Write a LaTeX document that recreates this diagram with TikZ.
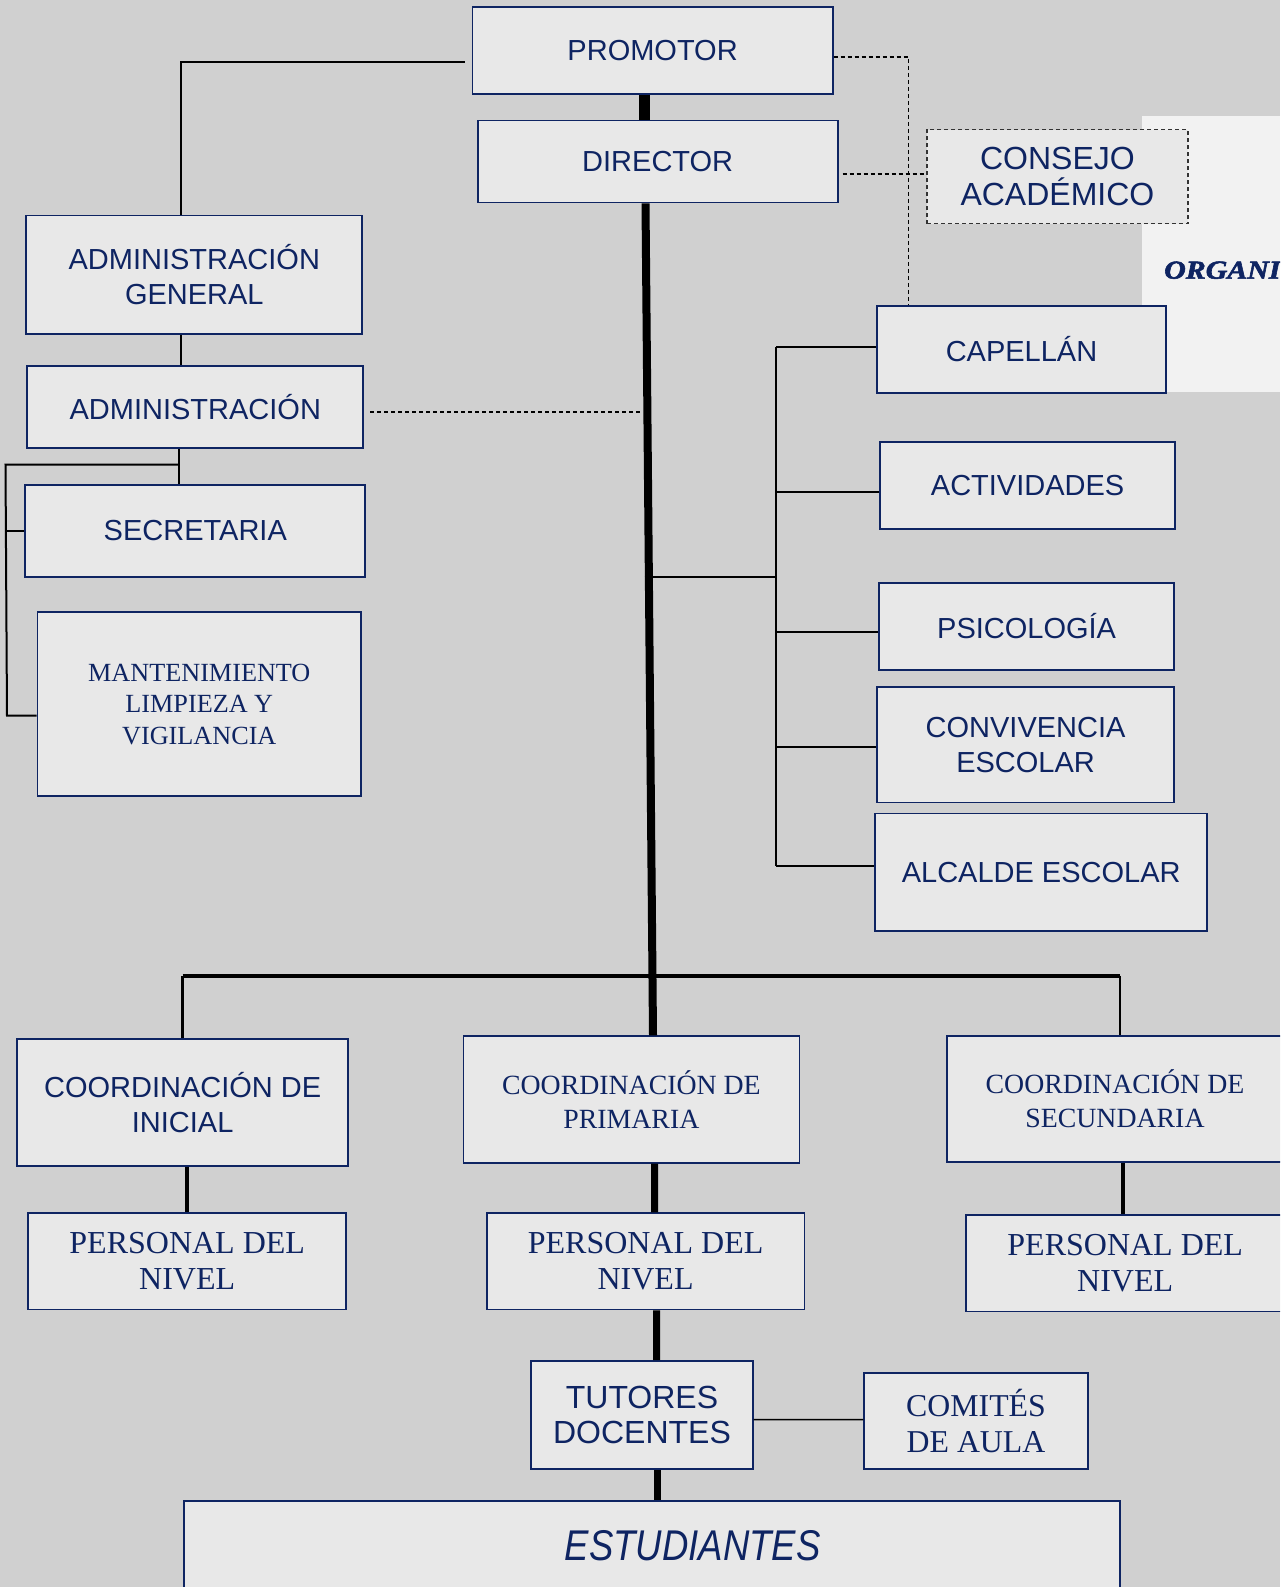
\documentclass[tikz,border=0pt]{standalone}
\usepackage{fontspec}
\setmainfont{Liberation Serif}
\setsansfont{Liberation Sans}
\newfontfamily\heavyfont[FakeBold=2]{Liberation Serif}
\definecolor{navy}{RGB}{14,36,98}
\definecolor{bg}{RGB}{208,208,208}
\definecolor{boxfill}{RGB}{232,232,232}
\definecolor{panel}{RGB}{242,242,242}

\begin{document}
\begin{tikzpicture}[x=1pt,y=-1pt,
	box/.style={draw=navy,fill=boxfill,line width=1.8pt,text=navy,inner sep=0pt,align=center},
	sf/.style={font=\sffamily\fontsize{29}{35.4}\selectfont},
	sfbig/.style={font=\sffamily\fontsize{32}{35.4}\selectfont},
	rm/.style 2 args={font=\rmfamily\fontsize{#1}{#2}\selectfont},
	link/.style={line width=2pt},
	dashlink/.style={line width=1.4pt,dash pattern=on 4pt off 3pt}]
	\useasboundingbox (0,0) rectangle (1280,1587);
	\clip (0,0) rectangle (1280,1587);
	\fill[bg] (0,0) rectangle (1280,1587);
	\fill[panel] (1142.4,116.4) rectangle (1280,391.6);
	\node[anchor=west,inner sep=0pt,text=navy,font=\heavyfont\bfseries\itshape\fontsize{26}{30}\selectfont] (0) at (1164,270.2) {\scalebox{1.15}[1]{ORGANIGRAMA}};
	% top of the chart
	\node[box,sf,minimum width=360.3,minimum height=87] (1) at (652.6,50.6) {PROMOTOR};
	\node[box,sf,minimum width=360.2,minimum height=82] (2) at (657.7,161.4) {DIRECTOR};
	\node[box,sfbig,draw=black!80,line width=1.4pt,dash pattern=on 4pt off 3pt,minimum width=261,minimum height=94.1] (3) at (1057.4,176.6) {CONSEJO\\ACADÉMICO};
	% left column
	\node[box,sf,minimum width=335.9,minimum height=118.4] (4) at (194.3,274.7) {ADMINISTRACIÓN\\GENERAL};
	\node[box,sf,minimum width=336,minimum height=82] (5) at (195.3,407.3) {ADMINISTRACIÓN};
	\node[box,sf,minimum width=340,minimum height=92.1] (6) at (195.3,530.8) {SECRETARIA};
	\node[box,rm={26.2}{31.4},minimum width=323.8,minimum height=184.1] (7) at (199.3,704.3) {MANTENIMIENTO\\LIMPIEZA Y\\VIGILANCIA};
	% right column
	\node[box,sf,minimum width=288.4,minimum height=87] (8) at (1021.5,349.1) {CAPELLÁN};
	\node[box,sf,minimum width=294.5,minimum height=87] (9) at (1027.6,485.7) {ACTIVIDADES};
	\node[box,sf,minimum width=294.5,minimum height=87.1] (10) at (1026.6,626.4) {PSICOLOGÍA};
	\node[box,sf,minimum width=296.5,minimum height=115.3] (11) at (1025.6,744.8) {CONVIVENCIA\\ESCOLAR};
	\node[box,sf,minimum width=331.8,minimum height=117.4] (12) at (1041.2,872.2) {ALCALDE ESCOLAR};
	% levels
	\node[box,sf,minimum width=330.9,minimum height=126.5] (13) at (182.7,1102.5) {COORDINACIÓN DE\\INICIAL};
	\node[box,rm={27.8}{34.4},minimum width=336,minimum height=126.4] (14) at (631.4,1099.4) {COORDINACIÓN DE\\PRIMARIA};
	\node[box,rm={27.8}{34.4},minimum width=336,minimum height=125.4] (15) at (1115,1098.9) {COORDINACIÓN DE\\SECUNDARIA};
	\node[box,rm={32}{36.4},minimum width=317.8,minimum height=96.2] (16) at (187.2,1261.3) {PERSONAL DEL\\NIVEL};
	\node[box,rm={32}{36.4},minimum width=317.7,minimum height=96.2] (17) at (645.6,1261.3) {PERSONAL DEL\\NIVEL};
	\node[box,rm={32}{36.4},minimum width=318,minimum height=96.1] (18) at (1125.2,1263.4) {PERSONAL DEL\\NIVEL};
	\node[box,sfbig,minimum width=221.6,minimum height=108.2] (19) at (642,1415.1) {TUTORES\\DOCENTES};
	\node[box,rm={31.8}{36.4},minimum width=223.7,minimum height=96.1] (20) at (976,1421.2) {COMITÉS\\DE AULA};
	\node[box,font=\sffamily\itshape\fontsize{43}{50}\selectfont,minimum width=936,minimum height=91] (21) at (652.2,1546.1) {\hspace*{81pt}\scalebox{0.85}[1]{ESTUDIANTES}};
	% free ends
	\coordinate (k1) at (5.5,464.5);
	\coordinate (k2) at (7,715.7);
	\coordinate (d1) at (643,411.8);
	\coordinate (r0) at (644.6,576.8);
	\coordinate (r1) at (776.1,347.1);
	\coordinate (r2) at (776.1,866.2);
	\coordinate (bL) at (182.7,975.5);
	\coordinate (bR) at (1120.2,975.5);
	% main line
	\draw[line width=11pt] ([xshift=-8.6pt]1.south) -- ([xshift=-13.7pt]2.north);
	\draw[line width=8pt] ([xshift=-12.2pt]2.south) -- ([xshift=21.6pt]14.north);
	\draw[line width=7pt] ([xshift=23.3pt]14.south) -- ([xshift=9.1pt]17.north);
	\draw[line width=7pt] ([xshift=11.1pt]17.south) -- ([xshift=14.7pt]19.north);
	\draw[line width=7pt] ([xshift=15.7pt]19.south) -- ([xshift=5.5pt]21.north);
	\draw[line width=4pt] (bL) -- (bR);
	\draw[line width=3pt] (bL) -- (13.north);
	\draw[line width=2.5pt] (bR) -- (bR |- 15.north);
	\draw[line width=3.5pt] ([xshift=4.5pt]13.south) -- (16.north);
	\draw[line width=3.5pt] ([xshift=8.2pt]15.south) -- ([xshift=-2pt]18.north);
	\draw[line width=1.5pt] ([yshift=-4.6pt]19.east) -- ([yshift=1.5pt]20.west);
	% left side
	\draw[link] ([xshift=-7pt,yshift=-11.1pt]1.west) -| ([xshift=-13.2pt]4.north);
	\draw[link] ([xshift=-13.2pt]4.south) -- ([xshift=-14.2pt]5.north);
	\draw[link] ([xshift=-16.2pt]5.south) -- ([xshift=-16.2pt]6.north);
	\draw[link] ([xshift=-16.2pt]5.south |- k1) -- (k1) -- (k2) -- ([yshift=-11.4pt]7.west);
	\draw[link] (6.west) -- (6.west -| k1);
	\draw[dashlink] ([xshift=6pt,yshift=-4.5pt]5.east) -- (d1);
	% right side
	\draw[dashlink] ([yshift=-6.4pt]1.east) -| ([xshift=-112.8pt]8.north);
	\draw[dashlink] ([xshift=4pt,yshift=-12.6pt]2.east) -- ([yshift=2.6pt]3.west);
	\draw[link] (r0) -- (r0 -| r1);
	\draw[link] (r1) -- (r2);
	\draw[link] (r1) -- ([yshift=2pt]8.west);
	\draw[link] ([yshift=-6.1pt]9.west -| r1) -- ([yshift=-6.1pt]9.west);
	\draw[link] ([yshift=-6pt]10.west -| r1) -- ([yshift=-6pt]10.west);
	\draw[link] ([yshift=-2pt]11.west -| r1) -- ([yshift=-2pt]11.west);
	\draw[link] (r2) -- ([yshift=6pt]12.west);
\end{tikzpicture}
\end{document}
